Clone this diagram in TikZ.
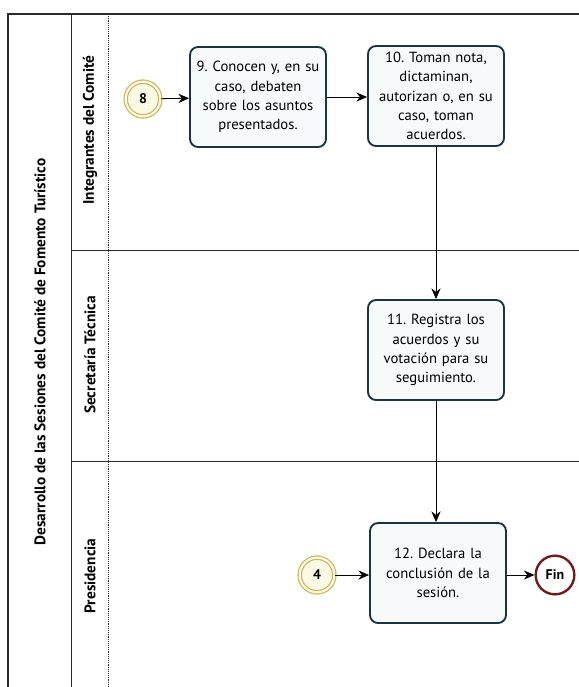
\documentclass[tikz,border=0pt]{standalone}
\usepackage{fontspec}
\setmainfont{PT Sans}
\usetikzlibrary{arrows.meta,positioning}
\frenchspacing
\definecolor{cTask}{HTML}{1C3440}
\definecolor{cTaskFill}{HTML}{F6FAFB}
\definecolor{cStart}{HTML}{C6B85E}
\definecolor{cStartFill}{HTML}{FBF8E4}
\definecolor{cEnd}{HTML}{6E1C1C}
\definecolor{cLane}{HTML}{2B2B2B}
\tikzset{
  flow/.style={-{Stealth[length=2.8mm,width=2.4mm]}, semithick, draw=black},
  task/.style={draw=cTask, line width=1.4pt, rounded corners=6pt, fill=cTaskFill,
    minimum width=102pt, minimum height=75pt, text width=100pt, inner xsep=1pt, align=center,
    font=\fontsize{11}{14.5}\selectfont},
  link/.style={circle, draw=cStart, line width=0.9pt, double=cStartFill, double distance=1.6pt,
    fill=cStartFill, minimum size=26pt, inner sep=0pt, font=\fontsize{10.5}{12}\selectfont\bfseries},
  stop/.style={circle, draw=cEnd, line width=1.8pt, fill=white, minimum size=29pt, inner sep=0pt,
    font=\fontsize{10.5}{12}\selectfont\bfseries},
  lane/.style={rotate=90, font=\fontsize{11.5}{13}\selectfont\bfseries},
}

\begin{document}
\begin{tikzpicture}[x=0.75pt,y=-0.75pt]
  \useasboundingbox (0,0) rectangle (579,687);
  % pool and lanes
  \draw[cLane, line width=1.3pt] (8,687) -- (8,14) -- (579,14);
  \draw[cLane, semithick] (71,14) -- (71,687);
  \draw[cLane, densely dotted] (108,14) -- (108,687);
  \draw[cLane, semithick] (71,250) -- (579,250);
  \draw[cLane, semithick] (71,461) -- (579,461);
  \node[lane] (pool) at (40,352) {Desarrollo de las Sesiones del Comité de Fomento Turístico};
  \node[lane] (l1) at (90,130) {Integrantes del Comité};
  \node[lane] (l2) at (90,355) {Secretaría Técnica};
  \node[lane] (l3) at (90,576) {Presidencia};
  % events and tasks
  \node[link] (e8) at (143,99) {8};
  \node[task] (t9) at (258,97) {9. Conocen y, en su\\ caso, debaten\\ sobre los asuntos\\ presentados.};
  \node[task] (t10) at (436,96) {10. Toman nota,\\ dictaminan,\\ autorizan o, en su\\ caso, toman\\ acuerdos.};
  \node[task] (t11) at (436,350) {11. Registra los\\ acuerdos y su\\ votación para su\\ seguimiento.};
  \node[task] (t12) at (438,573) {12. Declara la\\ conclusión de la\\ sesión.};
  \node[link] (e4) at (317,575) {4};
  \node[stop] (fin) at (555,575) {Fin};
  \draw[flow] (e8) -- (t9);
  \draw[flow] (t9) -- (t9 -| t10.west);
  \draw[flow] (t10.south) -- (t10.south |- t11.north);
  \draw[flow] (t11.south) -- (t11.south |- t12.north);
  \draw[flow] (e4) -- (e4 -| t12.west);
  \draw[flow] (t12.east |- fin) -- (fin);
\end{tikzpicture}
\end{document}
